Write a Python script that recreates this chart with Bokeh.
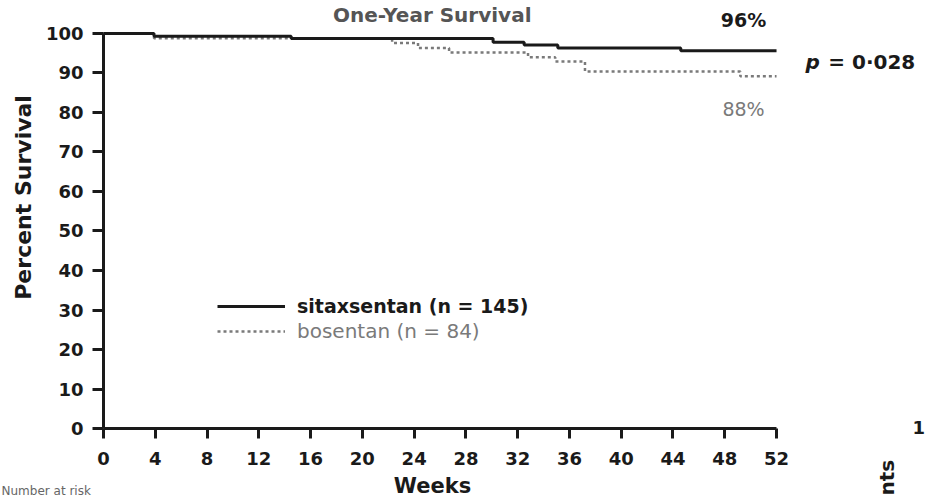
import math
from bokeh.plotting import figure
from bokeh.models import Range1d, Label, Legend, LegendItem, FixedTicker
from bokeh.embed import file_html
from bokeh.resources import INLINE

# ---- data ----
week_ticks = [0, 4, 8, 12, 16, 20, 24, 28, 32, 36, 40, 44, 48, 52]
pct_ticks = [0, 10, 20, 30, 40, 50, 60, 70, 80, 90, 100]

sita_weeks = [0, 3.9, 14.5, 30.1, 32.5, 35.1, 44.6, 52]
sita_surv = [100, 99.3, 98.7, 97.8, 97.1, 96.3, 95.6, 95.6]

bos_weeks = [0, 3.9, 22.3, 24.3, 26.7, 32.8, 34.9, 37.2, 49.2, 52]
bos_surv = [100, 98.8, 97.6, 96.3, 95.2, 94.0, 92.9, 90.4, 89.2, 89.2]

sita_label = "sitaxsentan (n = 145)"
bos_label = "bosentan (n = 84)"
sita_end_label = "96%"
bos_end_label = "88%"
p_label = "p"
p_value = "= 0·028"
title_text = "One-Year Survival"
x_title = "Weeks"
y_title = "Percent Survival"

FONT = "DejaVu Sans"
DARK = "#1a1a1a"
GRAY = "#7a7a7a"

# frame covers the whole canvas; axes are drawn at fixed locations
p = figure(width=925, height=499, output_backend="svg", toolbar_location=None,
           x_range=Range1d(-7.959, 63.51), y_range=Range1d(-17.97, 108.35),
           min_border_left=0, min_border_right=0, min_border_top=0,
           min_border_bottom=0)
p.xgrid.visible = False
p.ygrid.visible = False
p.outline_line_color = None
p.background_fill_color = "white"
p.border_fill_color = "white"

for ax in (p.xaxis[0], p.yaxis[0]):
    ax.fixed_location = 0
    ax.axis_line_width = 3
    ax.axis_line_color = DARK
    ax.major_tick_line_width = 3
    ax.major_tick_line_color = DARK
    ax.major_tick_in = 0
    ax.minor_tick_line_color = None
    ax.major_label_text_font = FONT
    ax.major_label_text_font_style = "bold"
    ax.major_label_text_font_size = "18px"
    ax.major_label_text_color = DARK

p.xaxis.ticker = FixedTicker(ticks=week_ticks)
p.xaxis.bounds = (0, 52)
p.xaxis.major_tick_out = 10
p.xaxis.major_label_standoff = 13

p.yaxis.ticker = FixedTicker(ticks=pct_ticks)
p.yaxis.bounds = (0, 100)
p.yaxis.major_tick_out = 11
p.yaxis.major_label_standoff = 9

# curves
r_bos = p.step(bos_weeks, bos_surv, mode="after", line_color=GRAY,
               line_width=2.5, line_dash="3 3")
r_sita = p.step(sita_weeks, sita_surv, mode="after", line_color=DARK,
                line_width=3)

# legends (two, for two text styles); location is offset from frame bottom-left
leg1 = Legend(items=[LegendItem(label=sita_label, renderers=[r_sita])],
              location=(217, 182), padding=0, margin=0, spacing=0,
              glyph_width=68, glyph_height=20, label_height=20,
              label_standoff=12, background_fill_alpha=0,
              border_line_color=None,
              label_text_font=FONT, label_text_font_style="bold",
              label_text_font_size="19px", label_text_color=DARK)
leg2 = Legend(items=[LegendItem(label=bos_label, renderers=[r_bos])],
              location=(217, 156), padding=0, margin=0, spacing=0,
              glyph_width=68, glyph_height=20, label_height=20,
              label_standoff=12, background_fill_alpha=0,
              border_line_color=None,
              label_text_font=FONT, label_text_font_style="normal",
              label_text_font_size="20px", label_text_color=GRAY)
p.add_layout(leg1)
p.add_layout(leg2)

# annotations
p.add_layout(Label(x=49.45, y=103.3, text=sita_end_label, text_align="center",
                   text_baseline="middle", text_font=FONT, text_font_style="bold",
                   text_font_size="19px", text_color=DARK))
p.add_layout(Label(x=49.45, y=81.0, text=bos_end_label, text_align="center",
                   text_baseline="middle", text_font=FONT, text_font_style="normal",
                   text_font_size="19px", text_color=GRAY))
p.add_layout(Label(x=54.24, y=92.9, text=p_label, text_align="left",
                   text_baseline="middle", text_font=FONT, text_font_style="bold italic",
                   text_font_size="20px", text_color=DARK))
p.add_layout(Label(x=56.0, y=92.9, text=p_value, text_align="left",
                   text_baseline="middle", text_font=FONT, text_font_style="bold",
                   text_font_size="20px", text_color=DARK))
p.add_layout(Label(x=25.4, y=104.56, text=title_text, text_align="center",
                   text_baseline="alphabetic", text_font=FONT, text_font_style="bold",
                   text_font_size="20px", text_color="#555555"))
p.add_layout(Label(x=25.42, y=-14.43, text=x_title, text_align="center",
                   text_baseline="middle", text_font=FONT, text_font_style="bold",
                   text_font_size="21px", text_color=DARK))
p.add_layout(Label(x=-6.18, y=58.5, text=y_title, angle=math.pi / 2,
                   text_align="center", text_baseline="middle", text_font=FONT,
                   text_font_style="bold", text_font_size="22px", text_color=DARK))
p.add_layout(Label(x=-7.88, y=-15.7, text="Number at risk", text_align="left",
                   text_baseline="middle", text_font=FONT,
                   text_font_size="12px", text_color="#666666"))
p.add_layout(Label(x=62.51, y=0.25, text="1", text_align="left",
                   text_baseline="middle", text_font=FONT, text_font_style="bold",
                   text_font_size="18px", text_color=DARK))
p.add_layout(Label(x=60.5, y=-16.96, text="nts", angle=math.pi / 2,
                   text_align="left", text_baseline="middle", text_font=FONT,
                   text_font_style="bold", text_font_size="20px", text_color=DARK))

open("out.html", "w").write(file_html(p, INLINE))
